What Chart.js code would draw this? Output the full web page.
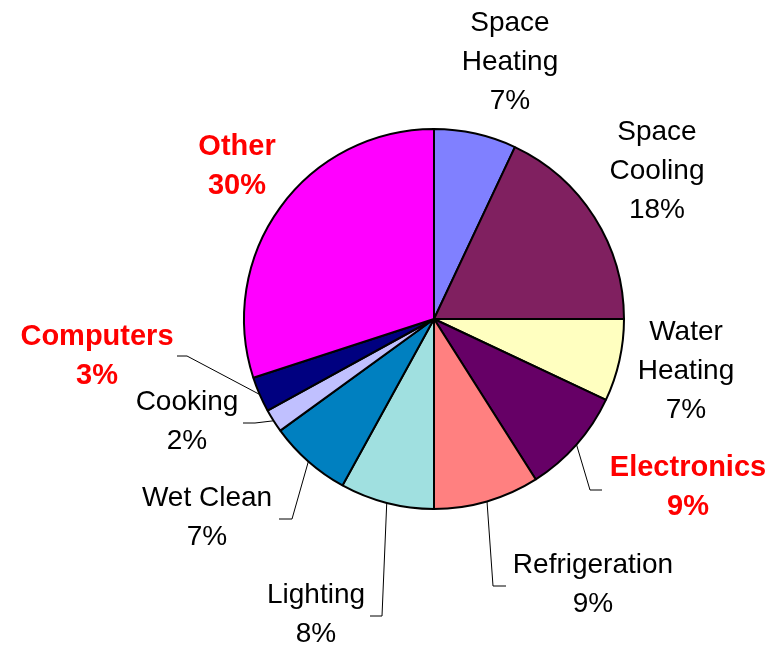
<!DOCTYPE html>
<html>
<head>
<meta charset="utf-8">
<script src="https://cdn.jsdelivr.net/npm/chart.js@4"></script>
<style>
html,body{margin:0;padding:0;background:#fff;}
#wrap{width:778px;height:646px;position:relative;}
</style>
</head>
<body>
<div id="wrap"><canvas id="c" width="778" height="646"></canvas></div>
<script>
const categories = ["Space Heating","Space Cooling","Water Heating","Electronics","Refrigeration","Lighting","Wet Clean","Cooking","Computers","Other"];
const labelLines = [["Space","Heating"],["Space","Cooling"],["Water","Heating"],["Electronics"],["Refrigeration"],["Lighting"],["Wet Clean"],["Cooking"],["Computers"],["Other"]];
const shares = [7,18,7,9,9,8,7,2,3,30];
const highlighted = [false,false,false,true,false,false,false,false,true,true];
const colors = ["#8080FF","#802060","#FFFFC0","#660066","#FF8080","#A0E0E0","#0080C0","#C0C0FF","#000080","#FF00FF"];

// label layout (center x, first line baseline y) and leader elbows
const labelPos = [
  {x:510,y:31},{x:657,y:140},{x:686,y:340},{x:688,y:476},{x:593,y:573},
  {x:316,y:603},{x:207,y:506},{x:187,y:410},{x:97,y:345},{x:237,y:155}
];
const leaders = [
  null,null,null,
  [[590,490],[602,490]],
  [[493,586],[506,586]],
  [[382,616],[370,616]],
  [[292,519],[279,519]],
  [[255,423],[243,423]],
  [[187,356],[177,356]],
  null
];

const labelPlugin = {
  id:'pieLabels',
  afterDatasetsDraw(chart){
    const ctx = chart.ctx;
    const meta = chart.getDatasetMeta(0);
    ctx.save();
    meta.data.forEach((arc,i)=>{
      const L = leaders[i];
      if(L){
        const mid = (arc.startAngle+arc.endAngle)/2;
        const sx = arc.x + Math.cos(mid)*arc.outerRadius;
        const sy = arc.y + Math.sin(mid)*arc.outerRadius;
        ctx.beginPath();
        ctx.strokeStyle = '#000';
        ctx.lineWidth = 1;
        ctx.moveTo(sx,sy);
        L.forEach(p=>ctx.lineTo(p[0],p[1]));
        ctx.stroke();
      }
      const lines = labelLines[i].concat([shares[i]+"%"]);
      const p = labelPos[i];
      ctx.fillStyle = highlighted[i] ? '#FF0000' : '#000';
      ctx.font = (highlighted[i] ? 'bold 29px ' : '28px ') + '"Liberation Sans", Arial, sans-serif';
      ctx.textAlign = 'center';
      ctx.textBaseline = 'alphabetic';
      lines.forEach((t,k)=>ctx.fillText(t,p.x,p.y+k*39.2));
    });
    ctx.restore();
  }
};

new Chart(document.getElementById('c'),{
  type:'pie',
  data:{labels:categories,datasets:[{data:shares,backgroundColor:colors,borderColor:'#000',borderWidth:2}]},
  options:{
    responsive:false,
    animation:false,
    layout:{padding:{left:243,right:153,top:128,bottom:136}},
    plugins:{legend:{display:false},tooltip:{enabled:false}}
  },
  plugins:[labelPlugin]
});
</script>
</body>
</html>
